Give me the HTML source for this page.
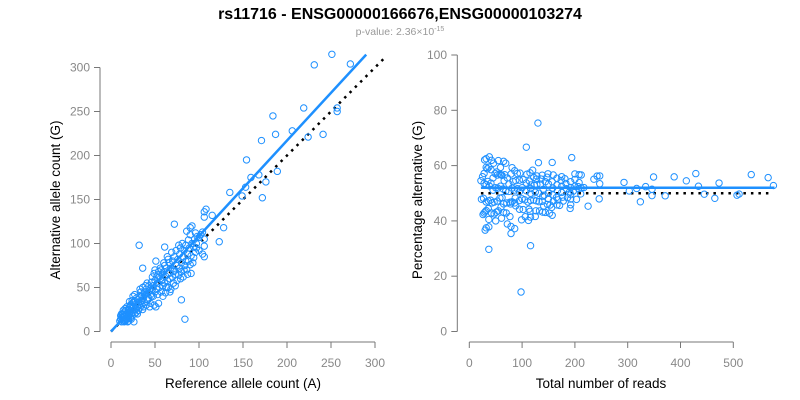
<!DOCTYPE html>
<html><head><meta charset="utf-8"><style>
body{margin:0;background:#fff;}
svg{display:block;font-family:"Liberation Sans",sans-serif;}
.tk{fill:#888;font-size:12px;}
.lab{fill:#000;font-size:13.5px;}
</style></head><body>
<svg id="chart" width="800" height="400">
<text x="400" y="19" text-anchor="middle" font-weight="bold" font-size="16">rs11716 - ENSG00000166676,ENSG00000103274</text>
<text x="400" y="35" text-anchor="middle" font-size="10.5" fill="#999">p-value: 2.36×10<tspan dy="-4" font-size="7">-15</tspan></text>
<g id="left"></g>
<g id="right"></g>
</svg>
<script>
const refCounts=[231,251,272,219,184,187,171,206,224,241,257,257,154,159,168,189,176,172,135,153,149,108,106,106,115,128,123,72,32,36,80,84,90,92,86,104,100,106,106,104,106,91,61,51,
10,11,12,12,13,14,14,15,15,16,16,17,17,18,18,19,19,20,20,21,21,22,22,23,23,24,24,25,25,26,26,27,27,28,28,29,30,30,31,31,32,32,33,34,34,35,35,36,36,37,38,38,39,40,40,41,41,42,43,43,44,45,45,46,47,47,48,48,49,50,50,50,51,52,52,53,54,54,55,56,56,57,58,58,59,60,60,61,62,62,63,64,64,65,66,66,67,68,68,69,70,70,71,72,72,73,74,75,75,76,77,78,78,79,80,80,81,82,82,83,84,85,85,86,87,88,88,89,90,90,91,92,93,94,95,96,97,98,100,102,97,
11,12,13,14,15,16,17,18,19,20,21,22,23,24,25,26,27,29,30,33,37,39,42,44,46,49,53,55,57,59,61,63,65,67,71,73,77,79,83,87,94,96];
const altCounts=[303,315,304,254,245,224,217,228,221,224,254,250,195,175,178,182,170,152,158,164,154,139,136,130,132,118,102,122,98,72,36,14,118,120,114,113,107,105,97,88,85,66,96,80,
12,14,11,16,19,13,20,17,22,12,19,15,24,20,14,22,17,12,25,19,28,15,23,20,30,18,26,22,33,11,28,20,35,25,31,22,28,36,24,33,30,40,27,35,45,30,40,25,50,38,33,45,42,30,48,36,55,44,38,52,47,32,42,56,48,62,40,52,66,45,58,70,28,48,62,55,32,68,50,60,72,45,58,65,52,68,78,55,44,63,72,58,85,50,66,78,60,48,72,90,62,80,55,70,85,65,92,58,75,82,64,88,72,95,78,68,100,85,62,92,75,80,98,70,88,104,80,95,76,110,86,100,78,96,105,90,100,108,92,110,95,
18,20,15,24,11,26,13,28,11,16,34,30,14,35,40,34,42,38,20,48,28,52,36,28,40,30,42,62,70,40,75,50,82,45,68,52,98,60,70,65,84,112];
const leftXTicks=[0,50,100,150,200,250,300];
const leftYTicks=[0,50,100,150,200,250,300];
const rightXTicks=[0,100,200,300,400,500];
const rightYTicks=[0,20,40,60,80,100];
const fitSlope=[1.085];
const rightFit=[52];
const rightNull=[50];

const NS="http://www.w3.org/2000/svg";
function mk(tag,attrs,parent,txt){const e=document.createElementNS(NS,tag);for(const k in attrs)e.setAttribute(k,attrs[k]);if(txt!==undefined)e.textContent=txt;parent.appendChild(e);return e;}
const L=document.getElementById('left'),R=document.getElementById('right');
const lx=v=>111+v*0.88, ly=v=>331.5-v*0.88;
const rx=v=>469.3+v*0.528, ry=v=>331.5-v*2.765;

// left axes
let a=mk('line',{x1:lx(0),x2:lx(300),y1:342,y2:342,stroke:'#777'},L);
a=mk('line',{x1:100,x2:100,y1:ly(0),y2:ly(300),stroke:'#777'},L);
leftXTicks.forEach(t=>{mk('line',{x1:lx(t),x2:lx(t),y1:342,y2:348,stroke:'#777'},L);const e=mk('text',{x:lx(t),y:367,'text-anchor':'middle',class:'tk'},L,t);});
leftYTicks.forEach(t=>{mk('line',{x1:94,x2:100,y1:ly(t),y2:ly(t),stroke:'#777'},L);const e=mk('text',{x:90,y:ly(t)+4,'text-anchor':'end',class:'tk'},L,t);});
a=mk('text',{x:243,y:388,'text-anchor':'middle',class:'lab'},L,'Reference allele count (A)');
a=mk('text',{x:0,y:0,'text-anchor':'middle',class:'lab',transform:'translate(60,200) rotate(-90)'},L,'Alternative allele count (G)');
// left lines
a=mk('line',{x1:lx(0),y1:ly(0),x2:lx(312),y2:ly(312),stroke:'#000','stroke-width':2.5,'stroke-dasharray':'2.5,5'},L);
refCounts.forEach((r,i)=>{const c=mk('circle',{cx:lx(r),cy:ly(altCounts[i]),r:3.2,fill:'none',stroke:'#1e90ff','stroke-width':1},L);});
a=mk('line',{x1:lx(0),y1:ly(0),x2:lx(290),y2:ly(290*fitSlope[0]),stroke:'#1e90ff','stroke-width':2.5},L);

// right axes
a=mk('line',{x1:rx(0),x2:rx(500),y1:342,y2:342,stroke:'#777'},R);
a=mk('line',{x1:457.3,x2:457.3,y1:ry(0),y2:ry(100),stroke:'#777'},R);
rightXTicks.forEach(t=>{mk('line',{x1:rx(t),x2:rx(t),y1:342,y2:348,stroke:'#777'},R);const e=mk('text',{x:rx(t),y:367,'text-anchor':'middle',class:'tk'},R,t);});
rightYTicks.forEach(t=>{mk('line',{x1:451.3,x2:457.3,y1:ry(t),y2:ry(t),stroke:'#777'},R);const e=mk('text',{x:447,y:ry(t)+4,'text-anchor':'end',class:'tk'},R,t);});
a=mk('text',{x:601,y:388,'text-anchor':'middle',class:'lab'},R,'Total number of reads');
a=mk('text',{x:0,y:0,'text-anchor':'middle',class:'lab',transform:'translate(422,200) rotate(-90)'},R,'Percentage alternative (G)');
a=mk('line',{x1:rx(22),y1:ry(rightNull[0]),x2:rx(575),y2:ry(rightNull[0]),stroke:'#000','stroke-width':2.5,'stroke-dasharray':'2.5,5'},R);
refCounts.forEach((r,i)=>{const tot=r+altCounts[i];const c=mk('circle',{cx:rx(tot),cy:ry(altCounts[i]/tot*100),r:3.2,fill:'none',stroke:'#1e90ff','stroke-width':1},R);});
a=mk('line',{x1:rx(22),y1:ry(rightFit[0]),x2:rx(578),y2:ry(rightFit[0]),stroke:'#1e90ff','stroke-width':2.5},R);
</script>
</body></html>
